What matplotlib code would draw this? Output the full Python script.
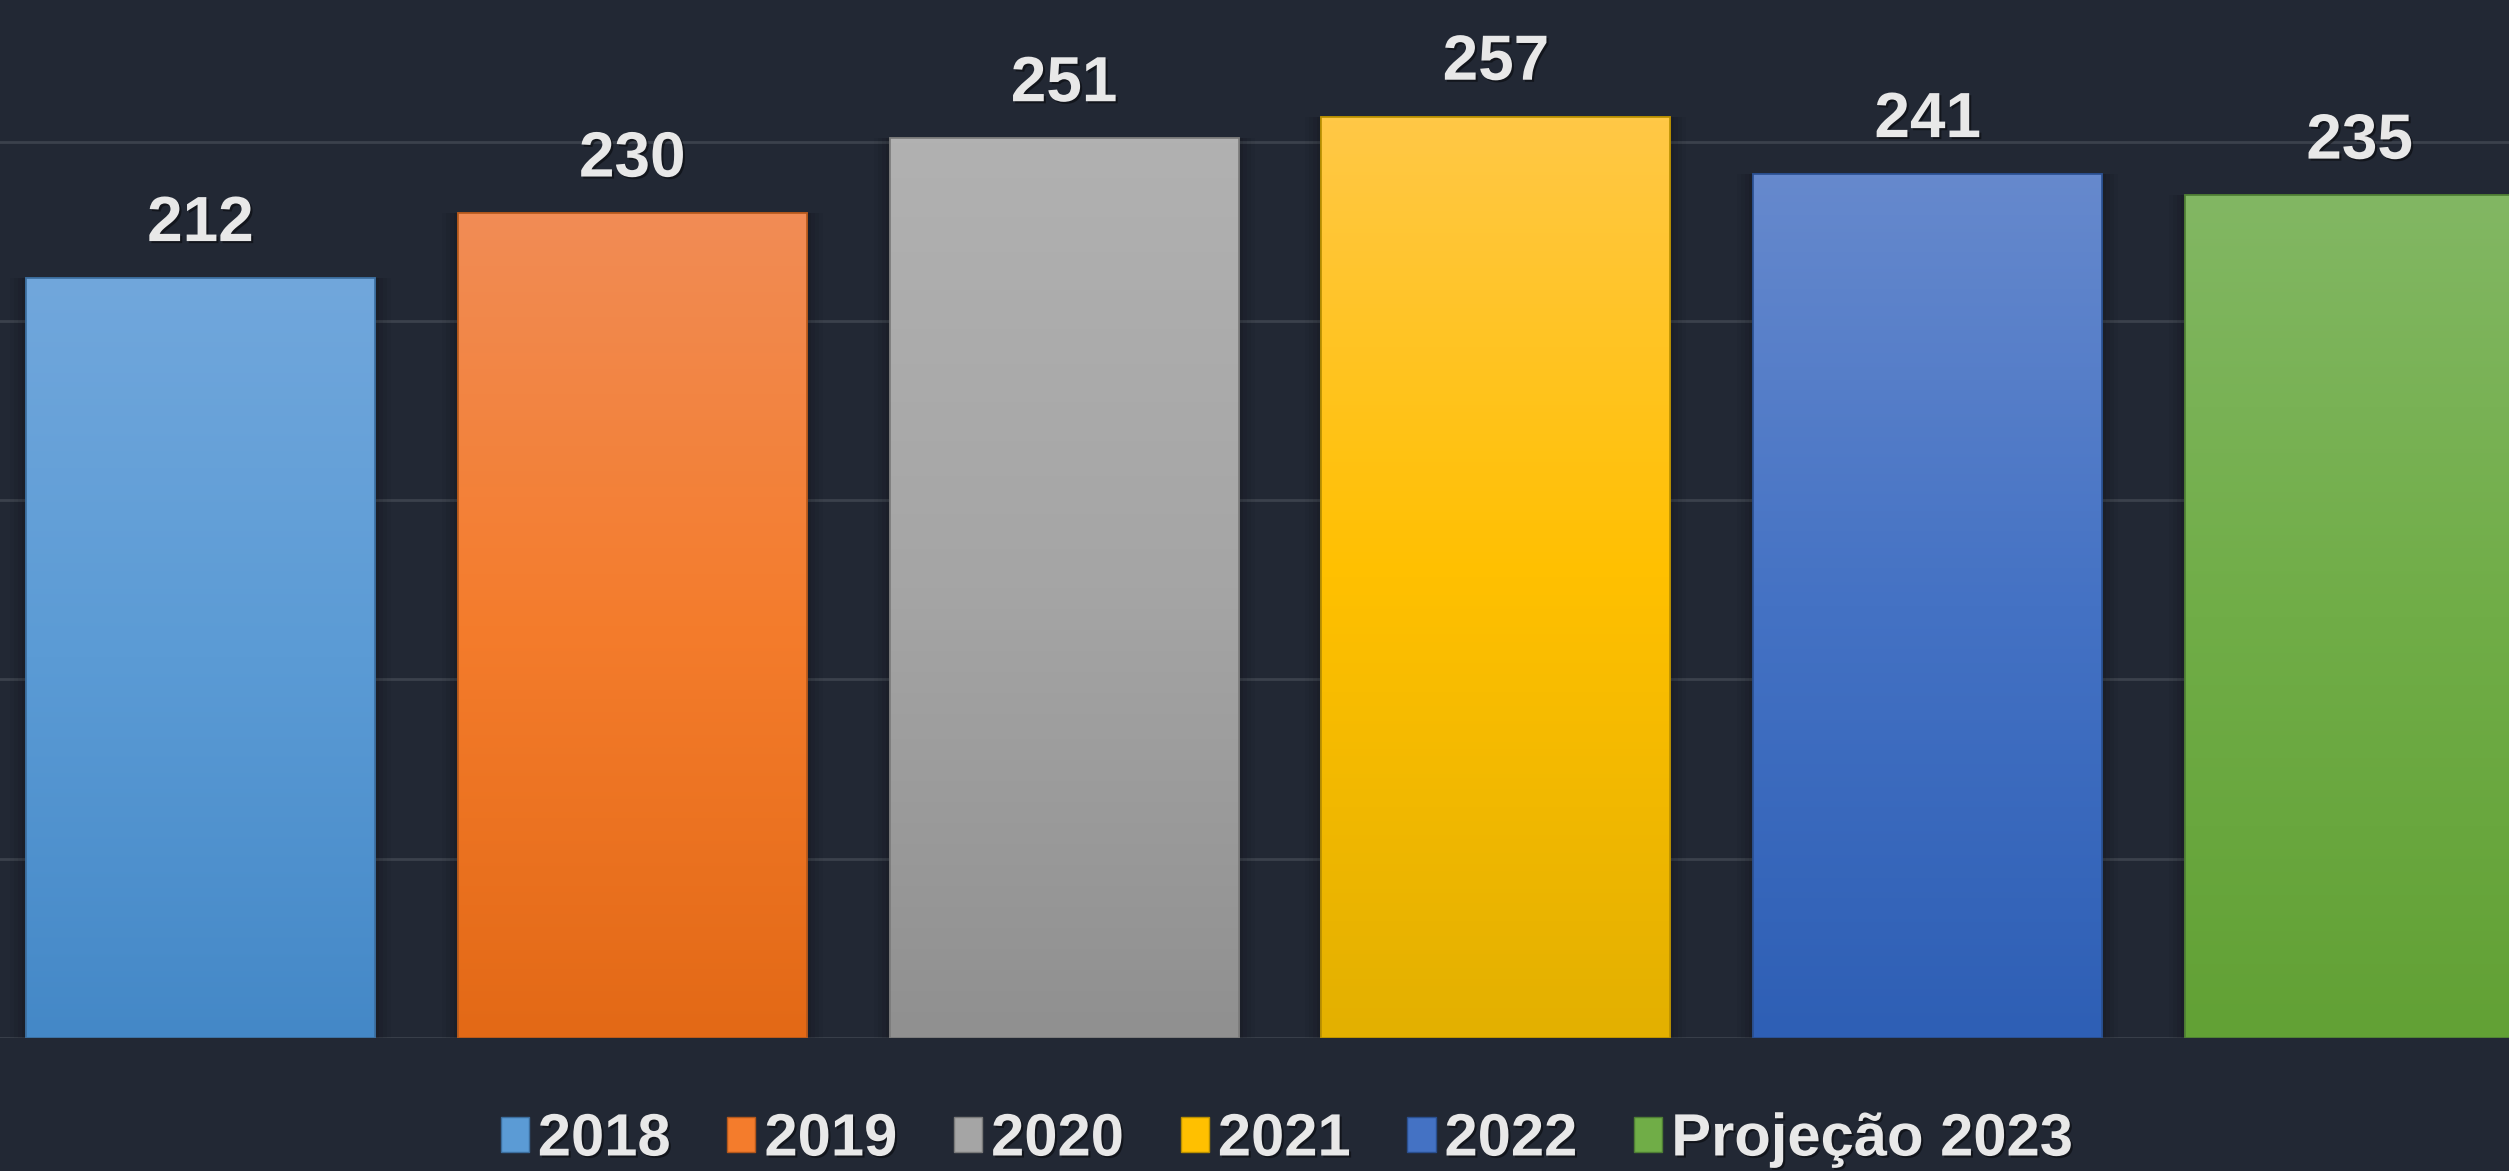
import numpy as np
import matplotlib
matplotlib.use("Agg")
import matplotlib.pyplot as plt
import matplotlib.patheffects as pe
from matplotlib.colors import LinearSegmentedColormap
from matplotlib.patches import Patch

# ── data ─────────────────────────────────────────────────────────────────────
categories = ["2018", "2019", "2020", "2021", "2022", "Projeção 2023"]
values     = [212, 230, 251, 257, 241, 235]

# gradient stops per bar (top / middle / bottom)
top_colors = ["#71A7DC", "#F18C55", "#B1B1B1", "#FFC846", "#6689CD", "#82B763"]
mid_colors = ["#5B9BD5", "#F47C2C", "#A5A5A5", "#FFC000", "#4472C4", "#70AD47"]
bot_colors = ["#4488C7", "#E36916", "#909090", "#E3B000", "#2E5FB5", "#62A135"]
edge_colors = ["#3C6E9E", "#B4581C", "#7A7A7A", "#B88F00", "#2A4F8F", "#4E7D34"]

bg = "#222834"
grid_c = "#3B414C"
text_c = "#E8E8E8"

# ── figure ───────────────────────────────────────────────────────────────────
W, H = 2509, 1171
fig = plt.figure(figsize=(W / 100, H / 100), dpi=100, facecolor=bg)
ax = fig.add_axes([0, 133 / H, 1, 1038 / H], facecolor=bg)

x = np.arange(len(values))
bar_w = 0.808

# soft shadow round the bars
for k, a in [(4, 0.06), (8, 0.05), (12, 0.04), (16, 0.03)]:
    ax.bar(x, np.array(values) + k / 3.585, width=bar_w + 2 * k / 431.8,
           bottom=-k / 3.585, color="black", alpha=a, zorder=2, linewidth=0)

bars = ax.bar(x, values, width=bar_w, color=mid_colors,
              edgecolor=edge_colors, linewidth=1.2, zorder=3)

grad = np.linspace(0, 1, 256).reshape(-1, 1)
for b, t, m, bo in zip(bars, top_colors, mid_colors, bot_colors):
    cmap = LinearSegmentedColormap.from_list("g", [bo, m, t])
    x0, y0 = b.get_x(), b.get_y()
    im = ax.imshow(grad, cmap=cmap, origin="lower", aspect="auto",
                   extent=(x0, x0 + b.get_width(), y0, y0 + b.get_height()),
                   zorder=3.5, interpolation="bicubic")
    im.set_clip_path(b)

# outline again on top of the gradient
ax.bar(x, values, width=bar_w, facecolor="none",
       edgecolor=edge_colors, linewidth=1.2, zorder=4)

shadow = [pe.withSimplePatchShadow(offset=(1.5, -1.5), shadow_rgbFace="black", alpha=0.45)]
for xi, v in zip(x, values):
    ax.annotate(str(v), (xi, v), xytext=(0, 26.5), textcoords="offset points",
                ha="center", va="baseline", fontsize=46, fontweight="bold",
                family=["Liberation Sans", "DejaVu Sans"],
                color=text_c, path_effects=shadow, zorder=5)

ax.set_yticks(np.arange(0, 300, 50))
ax.yaxis.grid(True, color=grid_c, linewidth=2.0, zorder=0)
ax.set_axisbelow(True)
ax.set_xlim(-0.464, 5.346)
ax.set_ylim(0, 289.5)
ax.tick_params(left=False, bottom=False, labelleft=False, labelbottom=False)
for s in ax.spines.values():
    s.set_visible(False)

handles = [Patch(facecolor=m, edgecolor=e, linewidth=1) for m, e in zip(mid_colors, edge_colors)]
leg = fig.legend(handles, categories, loc="center", ncol=6,
                 bbox_to_anchor=(1287 / W, 1 - 1140 / H), frameon=False,
                 prop={"family": ["Liberation Sans", "DejaVu Sans"], "weight": "bold", "size": 43},
                 handlelength=0.47, handleheight=0.52, handletextpad=0.15,
                 columnspacing=0.95, borderpad=0, borderaxespad=0)
for t in leg.get_texts():
    t.set_color(text_c)
    t.set_path_effects(shadow)

fig.savefig("out.png", dpi=100, facecolor=bg)
